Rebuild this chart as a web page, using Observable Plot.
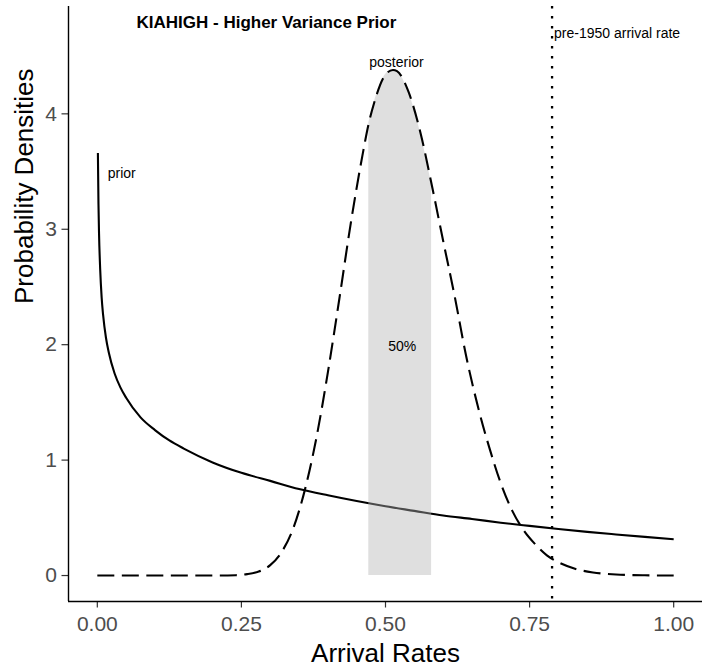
<!DOCTYPE html>
<html><head><meta charset="utf-8">
<script src="https://cdn.jsdelivr.net/npm/d3@7"></script>
<script src="https://cdn.jsdelivr.net/npm/@observablehq/plot@0.6"></script>
<style>body{margin:0;background:#fff}</style>
</head><body><div id="chart"></div>
<script>
// Prior density (solid)
const priorX = [0.001, 0.002, 0.003, 0.005, 0.0075, 0.01, 0.015, 0.02, 0.03, 0.04, 0.05, 0.075, 0.1, 0.125, 0.15, 0.2, 0.25, 0.3, 0.35, 0.4, 0.45, 0.5, 0.55, 0.6, 0.65, 0.7, 0.75, 0.8, 0.85, 0.9, 0.95, 1.0];
const priorY = [3.66, 3.22, 2.96, 2.65, 2.41, 2.26, 2.06, 1.93, 1.75, 1.63, 1.54, 1.37, 1.26, 1.17, 1.10, 0.98, 0.89, 0.82, 0.75, 0.695, 0.645, 0.60, 0.56, 0.52, 0.49, 0.458, 0.43, 0.403, 0.378, 0.356, 0.335, 0.315];
// Posterior density (dashed)
const postX = [0, 0.1, 0.2, 0.24, 0.26, 0.28, 0.30, 0.32, 0.34, 0.36, 0.38, 0.40, 0.42, 0.44, 0.46, 0.471, 0.48, 0.50, 0.513, 0.52, 0.54, 0.56, 0.58, 0.60, 0.62, 0.64, 0.66, 0.68, 0.70, 0.72, 0.74, 0.76, 0.78, 0.80, 0.83, 0.86, 0.90, 0.95, 1.0];
const postY = [0, 0, 0, 0.003, 0.012, 0.035, 0.09, 0.205, 0.41, 0.74, 1.19, 1.76, 2.40, 3.06, 3.64, 3.92, 4.09, 4.34, 4.38, 4.37, 4.19, 3.85, 3.39, 2.90, 2.42, 1.90, 1.47, 1.11, 0.80, 0.56, 0.39, 0.27, 0.175, 0.115, 0.057, 0.027, 0.009, 0.002, 0];
// 50% interval
const shadeRange = [0.471, 0.58];
// pre-1950 arrival rate
const refRate = [0.789];
// Axis ticks
const xTicks = [0, 0.25, 0.5, 0.75, 1];
const yTicks = [0, 1, 2, 3, 4];
const xTitle = ["Arrival Rates"];
const yTitle = ["Probability Densities"];
// Annotations
const titleText = ["KIAHIGH - Higher Variance Prior"];
const titleX = [0.068];
const titleY = [4.79];
const leftText = ["pre-1950 arrival rate"];
const leftX = [0.789];
const leftY = [4.70];
const midText = ["posterior", "prior", "50%"];
const midX = [0.519, 0.0424, 0.529];
const midY = [4.444, 3.485, 1.987];

const prior = priorX.map((x, i) => ({x, y: priorY[i]}));
const post = postX.map((x, i) => ({x, y: postY[i]}));
const shade = post.filter(d => d.x >= shadeRange[0] && d.x <= shadeRange[1]);
const titles = titleText.map((t, i) => ({t, x: titleX[i], y: titleY[i]}));
const lefts = leftText.map((t, i) => ({t, x: leftX[i], y: leftY[i]}));
const mids = midText.map((t, i) => ({t, x: midX[i], y: midY[i]}));

const font = "'Liberation Sans', Arial, sans-serif";

const chart = Plot.plot({
  width: 715,
  height: 672,
  marginLeft: 68,
  marginRight: 13,
  marginTop: 6,
  marginBottom: 71,
  style: {fontFamily: font, background: "white", color: "black", overflow: "visible"},
  x: {domain: [-0.05, 1.05]},
  y: {domain: [-0.225, 4.93]},
  marks: [
    Plot.line(prior, {x: "x", y: "y", stroke: "black", strokeWidth: 2.1, strokeLinecap: "butt", curve: "monotone-x"}),
    Plot.areaY(shade, {x: "x", y: "y", fill: "#b3b3b3", fillOpacity: 0.42, curve: "monotone-x"}),
    Plot.line(post, {x: "x", y: "y", stroke: "black", strokeWidth: 2.1, strokeDasharray: "17,7.5", strokeLinecap: "butt", curve: "monotone-x"}),
    Plot.ruleX(refRate, {stroke: "black", strokeWidth: 2.3, strokeDasharray: "2.5,7.5", strokeLinecap: "butt"}),
    Plot.axisX({ticks: xTicks, tickFormat: d3.format(".2f"), tickSize: 6.5, tickPadding: 8, fontSize: 21, label: null, stroke: "#333333", strokeWidth: 1.2, fill: "#4D4D4D"}),
    Plot.axisY({ticks: yTicks, tickFormat: d3.format("d"), tickSize: 6.5, tickPadding: 5, fontSize: 21, label: null, stroke: "#333333", strokeWidth: 1.2, fill: "#4D4D4D"}),
    Plot.ruleX([-0.05], {stroke: "black", strokeWidth: 1.4}),
    Plot.ruleY([-0.225], {stroke: "black", strokeWidth: 1.4}),
    Plot.text(xTitle, {text: d => d, frameAnchor: "bottom", lineAnchor: "middle", dy: 52, fontSize: 26, fill: "black"}),
    Plot.text(yTitle, {text: d => d, frameAnchor: "left", lineAnchor: "middle", rotate: -90, dx: -44, fontSize: 26, fill: "black"}),
    Plot.text(titles, {x: "x", y: "y", text: "t", textAnchor: "start", fontSize: 17, fontWeight: "bold", fill: "black"}),
    Plot.text(lefts, {x: "x", y: "y", text: "t", textAnchor: "start", dx: 2, fontSize: 14, fill: "black"}),
    Plot.text(mids, {x: "x", y: "y", text: "t", textAnchor: "middle", fontSize: 14, fill: "black"})
  ]
});
document.getElementById("chart").appendChild(chart);
</script>
</body></html>
